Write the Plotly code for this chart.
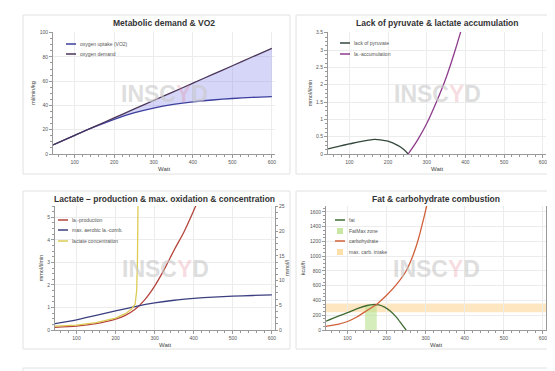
import plotly.graph_objects as go

W, H = 555, 371
def px(x): return x / W
def py(y): return 1 - y / H

# ---------------- data ----------------
# Panel 1: Metabolic demand & VO2
watt_vo2 = [45, 100, 150, 200, 250, 300, 350, 400, 450, 500, 550, 600]
oxygen_uptake = [7.5, 15.3, 22.3, 28.6, 33.8, 37.8, 40.8, 43.0, 44.5, 45.7, 46.6, 47.3]
oxygen_demand = [7.5, 15.4, 22.6, 29.7, 36.9, 44.1, 51.2, 58.4, 65.6, 72.7, 79.9, 87.0]

# Panel 2: Lack of pyruvate & lactate accumulation
watt_pyr = [45, 75, 100, 125, 150, 165, 180, 200, 225, 240, 252]
lack_of_pyruvate = [0.15, 0.23, 0.29, 0.35, 0.40, 0.42, 0.41, 0.37, 0.25, 0.14, 0.0]
watt_acc = [252, 275, 300, 325, 350, 375, 400]
la_accumulation = [0.0, 0.38, 0.88, 1.5, 2.2, 3.05, 4.0]

# Panel 3: Lactate production & max oxidation & concentration
watt_prod = [45, 100, 150, 200, 225, 250, 275, 300, 325, 350, 375, 400, 425]
la_production = [0.12, 0.17, 0.28, 0.48, 0.65, 0.92, 1.35, 1.95, 2.7, 3.55, 4.35, 5.3, 6.3]
watt_comb = [45, 100, 150, 200, 250, 300, 350, 400, 450, 500, 550, 600]
max_aerobic_la_comb = [0.28, 0.45, 0.65, 0.85, 1.04, 1.2, 1.32, 1.4, 1.46, 1.5, 1.53, 1.56]
watt_conc = [45, 100, 150, 200, 225, 240, 250, 254, 256, 258]
lactate_concentration = [0.8, 1.0, 1.5, 2.4, 3.3, 4.2, 5.2, 8.0, 14.0, 30.0]

# Panel 4: Fat & carbohydrate combustion
watt_fat = [45, 75, 100, 125, 150, 165, 180, 195, 210, 225, 240, 250]
fat_kcal = [120, 185, 235, 290, 332, 345, 340, 310, 255, 175, 70, 0]
watt_carb = [45, 75, 100, 125, 150, 175, 200, 225, 250, 275, 300, 315]
carb_kcal = [50, 75, 115, 180, 265, 350, 470, 615, 800, 1120, 1620, 2000]
fatmax_watt = [145, 155, 165, 175]
fatmax_kcal = [325, 338, 345, 340]
max_carb_intake_gh = [60, 90]

x_ticks = [100, 200, 300, 400, 500, 600]

# ---------------- styling ----------------
FONT = "Liberation Sans, Arial, sans-serif"
C_UPTAKE = "#3d3f9e"
C_DEMAND = "#4a3558"
C_PYR = "#34483c"
C_ACC = "#8e3c8c"
C_PROD = "#b4443c"
C_COMB = "#3b3f7f"
C_CONC = "#ddcc55"
C_FAT = "#3f6b33"
C_CARB = "#d0603a"
C_FATMAX = "rgba(185,225,140,0.6)"
C_MAXCARB = "rgba(253,215,150,0.6)"

fig = go.Figure()

def line(x, y, color, xa, ya, **kw):
    fig.add_trace(go.Scatter(x=x, y=y, mode="lines", xaxis=xa, yaxis=ya,
                             line=dict(color=color, width=1.3, shape="spline", smoothing=0.8),
                             showlegend=False, hoverinfo="skip", **kw))

# P1
line(watt_vo2, oxygen_uptake, C_UPTAKE, "x", "y")
line(watt_vo2, oxygen_demand, C_DEMAND, "x", "y", fill="tonexty", fillcolor="rgba(120,120,235,0.3)")
# P2
line(watt_pyr, lack_of_pyruvate, C_PYR, "x2", "y2")
line(watt_acc, la_accumulation, C_ACC, "x2", "y2")
# P3
line(watt_prod, la_production, C_PROD, "x3", "y3")
line(watt_comb, max_aerobic_la_comb, C_COMB, "x3", "y3")
fig.add_trace(go.Scatter(x=watt_conc, y=lactate_concentration, mode="lines", xaxis="x3", yaxis="y4",
                         line=dict(color=C_CONC, width=1.3), showlegend=False, hoverinfo="skip"))
# P4
fig.add_trace(go.Scatter(x=fatmax_watt, y=fatmax_kcal, mode="none", fill="tozeroy", fillcolor=C_FATMAX,
                         xaxis="x4", yaxis="y5", showlegend=False, hoverinfo="skip"))
line(watt_fat, fat_kcal, C_FAT, "x4", "y5")
line(watt_carb, carb_kcal, C_CARB, "x4", "y5")
fig.add_trace(go.Scatter(x=[None], y=[None], xaxis="x4", yaxis="y6", showlegend=False))

# ---------------- axes ----------------
def xax(dom, anchor):
    return dict(domain=[px(dom[0]), px(dom[1])], anchor=anchor, range=[45, 608], automargin=False,
                tickvals=x_ticks, showline=True, linecolor="#9a9a9a", linewidth=1,
                ticks="outside", ticklen=3, tickcolor="#9a9a9a", tickwidth=1,
                showgrid=True, gridcolor="#ececec", zeroline=False,
                minor=dict(ticks="outside", ticklen=2, tickcolor="#9a9a9a", dtick=20, showgrid=False),
                tickfont=dict(size=5, color="#555", family=FONT),
                title=dict(text="Watt", font=dict(size=6, color="#444", family=FONT), standoff=2))

def yax(dom, anchor, rng, dtick, title, side="left", overlay=None, grid=True, tlen=3, stand=3):
    d = dict(domain=[py(dom[1]), py(dom[0])], anchor=anchor, range=rng, dtick=dtick, side=side,
             automargin=False,
             showline=True, linecolor="#9a9a9a", linewidth=1,
             ticks="outside", ticklen=tlen, tickcolor="#9a9a9a", tickwidth=1,
             showgrid=grid, gridcolor="#ececec", zeroline=False,
             minor=dict(ticks="outside", ticklen=2, tickcolor="#9a9a9a", dtick=dtick / 4, showgrid=False),
             tickfont=dict(size=5, color="#555", family=FONT),
             title=dict(text=title, font=dict(size=5.5, color="#444", family=FONT), standoff=stand))
    if overlay:
        d["overlaying"] = overlay
    return d

P1 = (45, 267, 24, 146)
P2 = (320, 538, 24, 146)
P3 = (47, 267, 198, 322)
P4 = (318, 538, 198, 322)

fig.update_layout(
    xaxis=xax(P1[:2], "y"),
    xaxis2=xax(P2[:2], "y2"),
    xaxis3=xax(P3[:2], "y3"),
    xaxis4=xax(P4[:2], "y5"),
    yaxis=yax(P1[2:], "x", [0, 100.5], 20, "ml/min/kg"),
    yaxis2=yax(P2[2:], "x2", [0, 3.52], 0.5, "mmol/l/min"),
    yaxis3=yax(P3[2:], "x3", [0, 5.5], 1, "mmol/l/min"),
    yaxis4=yax(P3[2:], "x3", [0, 25.1], 5, "mmol/l", side="right", overlay="y3", grid=False,
               tlen=2, stand=1),
    yaxis5=yax(P4[2:], "x4", [0, 1680], 200, "kcal/h"),
    yaxis6=yax(P4[2:], "x4", [0, 420], 50, "g/h", side="right", overlay="y5", grid=False,
               tlen=2, stand=1),
)

# ---------------- shapes: cards, band ----------------
shapes = []
for (x0, x1, y0, y1) in [(15, 282, 7, 166), (288, 560, 7, 166), (15, 282, 183, 341),
                         (288, 560, 183, 341), (15, 560, 360, 390)]:
    shapes.append(dict(type="rect", xref="paper", yref="paper", x0=px(x0), x1=px(x1),
                       y0=py(y1), y1=py(y0), line=dict(color="#e2e2e2", width=1), layer="below"))
shapes.append(dict(type="rect", xref="x4 domain", yref="y6", x0=0, x1=1,
                   y0=max_carb_intake_gh[0], y1=max_carb_intake_gh[1],
                   fillcolor=C_MAXCARB, line=dict(width=0), layer="below"))

annotations = []
for (cx, cy, t) in [(156, 15, "Metabolic demand & VO2"), (429, 15, "Lack of pyruvate & lactate accumulation"),
                    (156, 191, "Lactate \u2013 production & max. oxidation & concentration"),
                    (428, 191, "Fat & carbohydrate combustion")]:
    annotations.append(dict(x=px(cx), y=py(cy), xref="paper", yref="paper", text="<b>%s</b>" % t,
                            xanchor="center", yanchor="middle",
                            showarrow=False, font=dict(size=8.5, color="#333", family=FONT)))
for (x0, x1, y0, y1) in [P1, P2, P3, P4]:
    annotations.append(dict(x=px((x0 + x1) / 2), y=py((y0 + y1) / 2 + 1), xref="paper", yref="paper",
                            xanchor="center", yanchor="middle",
                            text="<b>INSC<span style='color:rgba(225,120,140,0.45)'>Y</span>D</b>",
                            showarrow=False, font=dict(size=23, color="rgba(200,200,200,0.6)", family=FONT)))

def legend_item(x, y, color, label, kind="line"):
    if kind == "line":
        shapes.append(dict(type="line", xref="paper", yref="paper", x0=px(x), x1=px(x + 10),
                           y0=py(y), y1=py(y), line=dict(color=color, width=1.5)))
    else:
        shapes.append(dict(type="rect", xref="paper", yref="paper", x0=px(x + 2), x1=px(x + 8),
                           y0=py(y + 3), y1=py(y - 3), fillcolor=color, line=dict(width=0)))
    annotations.append(dict(x=px(x + 12), y=py(y), xref="paper", yref="paper", text=label,
                            xanchor="left", yanchor="middle", showarrow=False,
                            font=dict(size=5, color="#555", family=FONT)))

legend_item(58, 36, C_UPTAKE, "oxygen uptake (VO2)")
legend_item(58, 46, C_DEMAND, "oxygen demand")
legend_item(332, 35, C_PYR, "lack of pyruvate")
legend_item(332, 46, C_ACC, "la.-accumulation")
legend_item(50, 212, C_PROD, "la.-production")
legend_item(50, 222, C_COMB, "max. aerobic la.-comb.")
legend_item(50, 233, C_CONC, "lactate concentration")
legend_item(327, 212, C_FAT, "fat")
legend_item(327, 223, "rgba(185,225,140,0.8)", "FatMax zone", kind="rect")
legend_item(327, 233, C_CARB, "carbohydrate")
legend_item(327, 244, "rgba(253,215,150,0.8)", "max. carb. intake", kind="rect")

fig.update_layout(width=W, height=H, margin=dict(l=0, r=0, t=0, b=0, autoexpand=False),
                  paper_bgcolor="white", plot_bgcolor="rgba(0,0,0,0)",
                  shapes=shapes, annotations=annotations, showlegend=False,
                  font=dict(family=FONT))

fig.write_html("out.html")
